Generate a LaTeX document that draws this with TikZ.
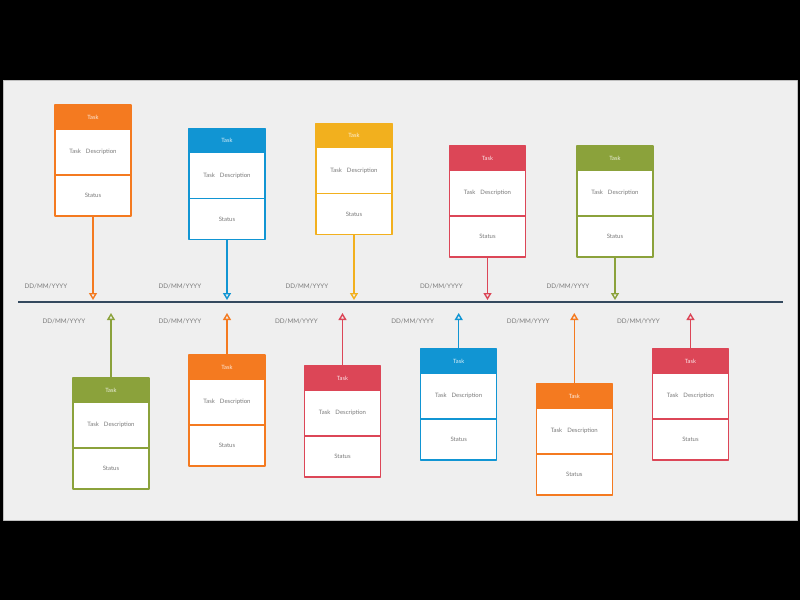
\documentclass[tikz,border=0pt]{standalone}
\usepackage{fontspec}
\setmainfont{Lato}
\usetikzlibrary{positioning,arrows.meta}
\definecolor{taskorange}{HTML}{F47A20}
\definecolor{taskblue}{HTML}{1195D3}
\definecolor{taskyellow}{HTML}{F2B01E}
\definecolor{taskred}{HTML}{DC4657}
\definecolor{taskgreen}{HTML}{8BA23B}
\definecolor{panelgray}{HTML}{EFEFEF}
\definecolor{lineslate}{HTML}{34495E}
\definecolor{labelgray}{HTML}{7A7A7A}
\begin{document}
\begin{tikzpicture}[x=1pt,y=-1pt,line join=round,>={Triangle[open,width=8pt,length=7pt]}]
  \tikzset{head/.style={draw=#1,fill=#1,line width=1.4pt,outer sep=0pt,minimum width=76pt,minimum height=24pt,inner sep=0pt,text=white!85!#1,font=\fontsize{5.8}{7}\selectfont},
           body/.style={draw=#1,fill=white,line width=1.4pt,outer sep=0pt,minimum width=76pt,inner sep=0pt,text=labelgray,font=\fontsize{6}{7}\selectfont},
           datelabel/.style={text=labelgray,font=\fontsize{6.3}{7}\selectfont}}
  \useasboundingbox[fill=black] (0,0) rectangle (800,600);
  \draw[fill=panelgray,draw=gray!50] (3,80) rectangle (797,520);
  \draw[lineslate,line width=1.2pt] (18,302) coordinate (L) -- (783,302) coordinate (R);
  % tasks above the line
  \foreach \i/\x/\y/\c/\dx in {1/93/105/taskorange/47,2/227/128.5/taskblue/47,3/354/123.5/taskyellow/47,4/487.5/146/taskred/46,5/615/146/taskgreen/47}
  {
    \node[head=\c,anchor=north] (h\i) at (\x,\y) {Task};
    \node[body=\c,minimum height=46pt,below=0pt of h\i] (d\i) {Task\hspace{5pt}Description};
    \node[body=\c,minimum height=41pt,below=0pt of d\i] (s\i) {Status};
    \coordinate (m\i) at (\x,300);
    \draw[\c,line width=1.4pt,->] (s\i) -- (m\i);
    \node[datelabel] (t\i) at (\x-\dx,286) {DD/MM/YYYY};
  }
  % tasks below the line
  \foreach \i/\x/\y/\c/\dx in {6/111/378/taskgreen/47,7/227/355/taskorange/47,8/342.5/366/taskred/46,9/458.7/349/taskblue/46,10/574.3/384/taskorange/46,11/690.5/349/taskred/52}
  {
    \node[head=\c,anchor=north] (h\i) at (\x,\y) {Task};
    \node[body=\c,minimum height=46pt,below=0pt of h\i] (d\i) {Task\hspace{5pt}Description};
    \node[body=\c,minimum height=41pt,below=0pt of d\i] (s\i) {Status};
    \coordinate (m\i) at (\x,313);
    \draw[\c,line width=1.4pt,->] (h\i) -- (m\i);
    \node[datelabel] (t\i) at (\x-\dx,321) {DD/MM/YYYY};
  }
\end{tikzpicture}
\end{document}
